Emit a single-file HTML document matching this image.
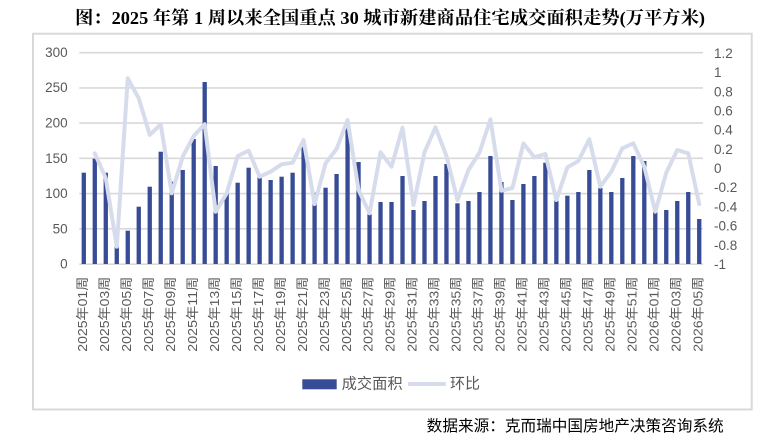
<!DOCTYPE html>
<html>
<head>
<meta charset="utf-8">
<style>
html,body{margin:0;padding:0;background:#fff;}
body{width:776px;height:437px;overflow:hidden;}
svg{display:block;}
.tl{font-family:"Liberation Sans","Noto Sans CJK SC",sans-serif;font-size:13.5px;fill:#595959;}
.xl{font-family:"Liberation Sans","Noto Sans CJK SC",sans-serif;font-size:13px;fill:#595959;}
</style>
</head>
<body>
<svg width="776" height="437" viewBox="0 0 776 437" xmlns="http://www.w3.org/2000/svg">
<rect x="0" y="0" width="776" height="437" fill="#fff"/>
<text x="75" y="24" textLength="630" lengthAdjust="spacingAndGlyphs" style="font-family:'Liberation Serif','Noto Serif CJK SC',serif;font-weight:bold;font-size:18px;fill:#000;">图：2025 年第 1 周以来全国重点 30 城市新建商品住宅成交面积走势(万平方米)</text>
<rect x="33" y="33.7" width="718.7" height="375.8" fill="none" stroke="#d9d9d9" stroke-width="2"/>
<g stroke="#d9d9d9" stroke-width="1.6">
<line x1="79.3" y1="52.7" x2="703" y2="52.7"/>
<line x1="79.3" y1="87.9" x2="703" y2="87.9"/>
<line x1="79.3" y1="123.1" x2="703" y2="123.1"/>
<line x1="79.3" y1="158.3" x2="703" y2="158.3"/>
<line x1="79.3" y1="193.6" x2="703" y2="193.6"/>
<line x1="79.3" y1="228.8" x2="703" y2="228.8"/>
<line x1="79.3" y1="264.2" x2="703" y2="264.2"/>
</g>
<g class="tl" text-anchor="end" dominant-baseline="central">
<text x="67.7" y="52.7">300</text>
<text x="67.7" y="87.6">250</text>
<text x="67.7" y="123.2">200</text>
<text x="67.7" y="158.5">150</text>
<text x="67.7" y="193.7">100</text>
<text x="67.7" y="229">50</text>
<text x="67.7" y="264">0</text>
</g>
<g class="tl" text-anchor="start" dominant-baseline="central">
<text x="714" y="53.3">1.2</text>
<text x="714" y="72.6">1</text>
<text x="714" y="91.8">0.8</text>
<text x="714" y="111">0.6</text>
<text x="714" y="130.2">0.4</text>
<text x="714" y="149.4">0.2</text>
<text x="714" y="168.5">0</text>
<text x="714" y="187.7">-0.2</text>
<text x="714" y="206.9">-0.4</text>
<text x="714" y="226.1">-0.6</text>
<text x="714" y="245.3">-0.8</text>
<text x="714" y="264.4">-1</text>
</g>
<g fill="#374b96">
<rect x="81.65" y="172.7" width="4.3" height="91.3"/>
<rect x="92.64" y="158.7" width="4.3" height="105.3"/>
<rect x="103.63" y="172.7" width="4.3" height="91.3"/>
<rect x="114.62" y="246.7" width="4.3" height="17.3"/>
<rect x="125.61" y="230.7" width="4.3" height="33.3"/>
<rect x="136.6" y="206.7" width="4.3" height="57.3"/>
<rect x="147.59" y="186.7" width="4.3" height="77.3"/>
<rect x="158.58" y="151.7" width="4.3" height="112.3"/>
<rect x="169.57" y="181.7" width="4.3" height="82.3"/>
<rect x="180.56" y="170" width="4.3" height="94"/>
<rect x="191.55" y="139" width="4.3" height="125"/>
<rect x="202.54" y="82" width="4.3" height="182"/>
<rect x="213.53" y="166" width="4.3" height="98"/>
<rect x="224.52" y="193.3" width="4.3" height="70.7"/>
<rect x="235.51" y="182.7" width="4.3" height="81.3"/>
<rect x="246.5" y="167.7" width="4.3" height="96.3"/>
<rect x="257.49" y="176.7" width="4.3" height="87.3"/>
<rect x="268.48" y="180" width="4.3" height="84"/>
<rect x="279.47" y="176.7" width="4.3" height="87.3"/>
<rect x="290.46" y="172.7" width="4.3" height="91.3"/>
<rect x="301.45" y="146.7" width="4.3" height="117.3"/>
<rect x="312.44" y="192.7" width="4.3" height="71.3"/>
<rect x="323.43" y="187.7" width="4.3" height="76.3"/>
<rect x="334.42" y="174" width="4.3" height="90"/>
<rect x="345.41" y="128.3" width="4.3" height="135.7"/>
<rect x="356.4" y="162" width="4.3" height="102"/>
<rect x="367.39" y="214.3" width="4.3" height="49.7"/>
<rect x="378.38" y="202" width="4.3" height="62"/>
<rect x="389.37" y="202" width="4.3" height="62"/>
<rect x="400.36" y="176" width="4.3" height="88"/>
<rect x="411.35" y="210" width="4.3" height="54"/>
<rect x="422.34" y="201" width="4.3" height="63"/>
<rect x="433.33" y="176" width="4.3" height="88"/>
<rect x="444.32" y="164" width="4.3" height="100"/>
<rect x="455.31" y="203.3" width="4.3" height="60.7"/>
<rect x="466.3" y="201" width="4.3" height="63"/>
<rect x="477.29" y="192" width="4.3" height="72"/>
<rect x="488.28" y="156" width="4.3" height="108"/>
<rect x="499.27" y="182" width="4.3" height="82"/>
<rect x="510.26" y="200" width="4.3" height="64"/>
<rect x="521.25" y="184" width="4.3" height="80"/>
<rect x="532.24" y="176" width="4.3" height="88"/>
<rect x="543.23" y="162.7" width="4.3" height="101.3"/>
<rect x="554.22" y="200.7" width="4.3" height="63.3"/>
<rect x="565.21" y="195.7" width="4.3" height="68.3"/>
<rect x="576.2" y="192" width="4.3" height="72"/>
<rect x="587.19" y="170" width="4.3" height="94"/>
<rect x="598.18" y="188" width="4.3" height="76"/>
<rect x="609.17" y="192" width="4.3" height="72"/>
<rect x="620.16" y="178" width="4.3" height="86"/>
<rect x="631.15" y="156" width="4.3" height="108"/>
<rect x="642.14" y="161" width="4.3" height="103"/>
<rect x="653.13" y="212" width="4.3" height="52"/>
<rect x="664.12" y="210" width="4.3" height="54"/>
<rect x="675.11" y="201" width="4.3" height="63"/>
<rect x="686.1" y="192" width="4.3" height="72"/>
<rect x="697.09" y="219" width="4.3" height="45"/>
</g>
<polyline fill="none" stroke="#d7dcec" stroke-width="4" stroke-linejoin="round" stroke-linecap="round" points="94.79,153.3 105.78,178.3 116.77,246.7 127.76,78.3 138.75,98.3 149.74,135 160.73,124.3 171.72,193.3 182.71,156.7 193.7,136 204.69,124.3 215.68,211.7 226.67,193.3 237.66,156 248.65,150.7 259.64,176.7 270.63,171.7 281.62,164.3 292.61,162.7 303.6,140 314.59,204 325.58,163.3 336.57,149 347.56,120 358.55,190 369.54,213.3 380.53,152.3 391.52,166.7 402.51,127.7 413.5,205 424.49,152.3 435.48,127.3 446.47,156 457.46,200 468.45,170 479.44,152.7 490.43,119.3 501.42,190.7 512.41,188 523.4,143.5 534.39,157.3 545.38,154 556.37,200 567.36,167.3 578.35,161 589.34,139.3 600.33,186.7 611.32,171.7 622.31,148.3 633.3,143.3 644.29,166.7 655.28,211.7 666.27,172.7 677.26,150 688.25,153.3 699.24,204"/>
<g class="xl" text-anchor="end" dominant-baseline="central">
<text transform="translate(82.5,276.7) rotate(-90)" textLength="75" lengthAdjust="spacingAndGlyphs">2025年01周</text>
<text transform="translate(104.5,276.7) rotate(-90)" textLength="75" lengthAdjust="spacingAndGlyphs">2025年03周</text>
<text transform="translate(126.5,276.7) rotate(-90)" textLength="75" lengthAdjust="spacingAndGlyphs">2025年05周</text>
<text transform="translate(148.4,276.7) rotate(-90)" textLength="75" lengthAdjust="spacingAndGlyphs">2025年07周</text>
<text transform="translate(170.4,276.7) rotate(-90)" textLength="75" lengthAdjust="spacingAndGlyphs">2025年09周</text>
<text transform="translate(192.4,276.7) rotate(-90)" textLength="75" lengthAdjust="spacingAndGlyphs">2025年11周</text>
<text transform="translate(214.4,276.7) rotate(-90)" textLength="75" lengthAdjust="spacingAndGlyphs">2025年13周</text>
<text transform="translate(236.4,276.7) rotate(-90)" textLength="75" lengthAdjust="spacingAndGlyphs">2025年15周</text>
<text transform="translate(258.3,276.7) rotate(-90)" textLength="75" lengthAdjust="spacingAndGlyphs">2025年17周</text>
<text transform="translate(280.3,276.7) rotate(-90)" textLength="75" lengthAdjust="spacingAndGlyphs">2025年19周</text>
<text transform="translate(302.3,276.7) rotate(-90)" textLength="75" lengthAdjust="spacingAndGlyphs">2025年21周</text>
<text transform="translate(324.3,276.7) rotate(-90)" textLength="75" lengthAdjust="spacingAndGlyphs">2025年23周</text>
<text transform="translate(346.3,276.7) rotate(-90)" textLength="75" lengthAdjust="spacingAndGlyphs">2025年25周</text>
<text transform="translate(368.2,276.7) rotate(-90)" textLength="75" lengthAdjust="spacingAndGlyphs">2025年27周</text>
<text transform="translate(390.2,276.7) rotate(-90)" textLength="75" lengthAdjust="spacingAndGlyphs">2025年29周</text>
<text transform="translate(412.2,276.7) rotate(-90)" textLength="75" lengthAdjust="spacingAndGlyphs">2025年31周</text>
<text transform="translate(434.2,276.7) rotate(-90)" textLength="75" lengthAdjust="spacingAndGlyphs">2025年33周</text>
<text transform="translate(456.2,276.7) rotate(-90)" textLength="75" lengthAdjust="spacingAndGlyphs">2025年35周</text>
<text transform="translate(478.1,276.7) rotate(-90)" textLength="75" lengthAdjust="spacingAndGlyphs">2025年37周</text>
<text transform="translate(500.1,276.7) rotate(-90)" textLength="75" lengthAdjust="spacingAndGlyphs">2025年39周</text>
<text transform="translate(522.1,276.7) rotate(-90)" textLength="75" lengthAdjust="spacingAndGlyphs">2025年41周</text>
<text transform="translate(544.1,276.7) rotate(-90)" textLength="75" lengthAdjust="spacingAndGlyphs">2025年43周</text>
<text transform="translate(566.1,276.7) rotate(-90)" textLength="75" lengthAdjust="spacingAndGlyphs">2025年45周</text>
<text transform="translate(588,276.7) rotate(-90)" textLength="75" lengthAdjust="spacingAndGlyphs">2025年47周</text>
<text transform="translate(610,276.7) rotate(-90)" textLength="75" lengthAdjust="spacingAndGlyphs">2025年49周</text>
<text transform="translate(632,276.7) rotate(-90)" textLength="75" lengthAdjust="spacingAndGlyphs">2025年51周</text>
<text transform="translate(654,276.7) rotate(-90)" textLength="75" lengthAdjust="spacingAndGlyphs">2026年01周</text>
<text transform="translate(676,276.7) rotate(-90)" textLength="75" lengthAdjust="spacingAndGlyphs">2026年03周</text>
<text transform="translate(697.9,276.7) rotate(-90)" textLength="75" lengthAdjust="spacingAndGlyphs">2026年05周</text>
</g>
<rect x="302.3" y="379.3" width="34.4" height="10" fill="#374b96"/>
<text x="341.7" y="383.8" dominant-baseline="central" textLength="61" lengthAdjust="spacingAndGlyphs" style="font-family:'Liberation Sans','Noto Sans CJK SC',sans-serif;font-size:15px;fill:#595959;">成交面积</text>
<line x1="408" y1="384" x2="445.7" y2="384" stroke="#d7dcec" stroke-width="4"/>
<text x="450" y="383.8" dominant-baseline="central" textLength="30" lengthAdjust="spacingAndGlyphs" style="font-family:'Liberation Sans','Noto Sans CJK SC',sans-serif;font-size:15px;fill:#595959;">环比</text>
<text x="426.7" y="426.5" dominant-baseline="central" textLength="297" lengthAdjust="spacingAndGlyphs" style="font-family:'Liberation Sans','Noto Sans CJK SC',sans-serif;font-size:15.5px;fill:#000;">数据来源：克而瑞中国房地产决策咨询系统</text>
</svg>
</body>
</html>
